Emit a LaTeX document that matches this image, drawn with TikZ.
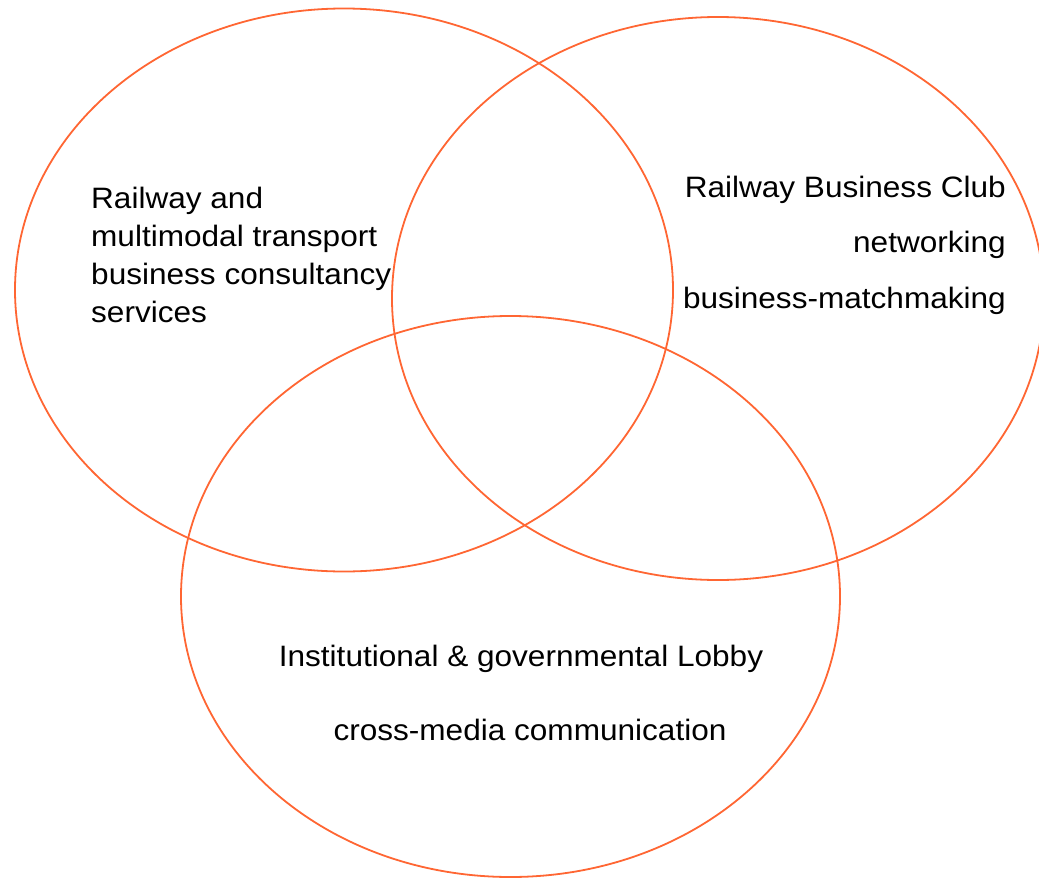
\documentclass[tikz,border=0pt]{standalone}
\usepackage{fontspec}
\setmainfont{Liberation Sans}[FakeStretch=1.07]
\definecolor{vennline}{HTML}{FF6633}
\tikzset{
  venn/.style={draw=vennline, line width=1.8pt},
  lbl/.style={inner sep=0pt, font=\fontsize{29.5}{36}\selectfont, text=black}
}
\begin{document}
\begin{tikzpicture}[x=1pt,y=-1pt]
\useasboundingbox (0,0) rectangle (1039,878);
% circles
\draw[venn] (344,290) ellipse [x radius=329, y radius=281.5];
\draw[venn] (718,298.5) ellipse [x radius=326, y radius=281.5];
\draw[venn] (510.5,596.5) ellipse [x radius=329.5, y radius=280.5];
% left text
\node[lbl, anchor=base west] (l1) at (91,208) {Railway and};
\node[lbl, anchor=base west] (l2) at (91,246) {multimodal transport};
\node[lbl, anchor=base west] (l3) at (91,284.5) {business consultancy};
\node[lbl, anchor=base west] (l4) at (91,322.5) {services};
% right text
\node[lbl, anchor=base east] (r1) at (1006,197) {Railway Business Club};
\node[lbl, anchor=base east] (r2) at (1006,252) {networking};
\node[lbl, anchor=base east] (r3) at (1006,308) {business-matchmaking};
% bottom text
\node[lbl, anchor=base] (b1) at (521,666) {Institutional \& governmental Lobby};
\node[lbl, anchor=base] (b2) at (530,740) {cross-media communication};
\end{tikzpicture}
\end{document}
